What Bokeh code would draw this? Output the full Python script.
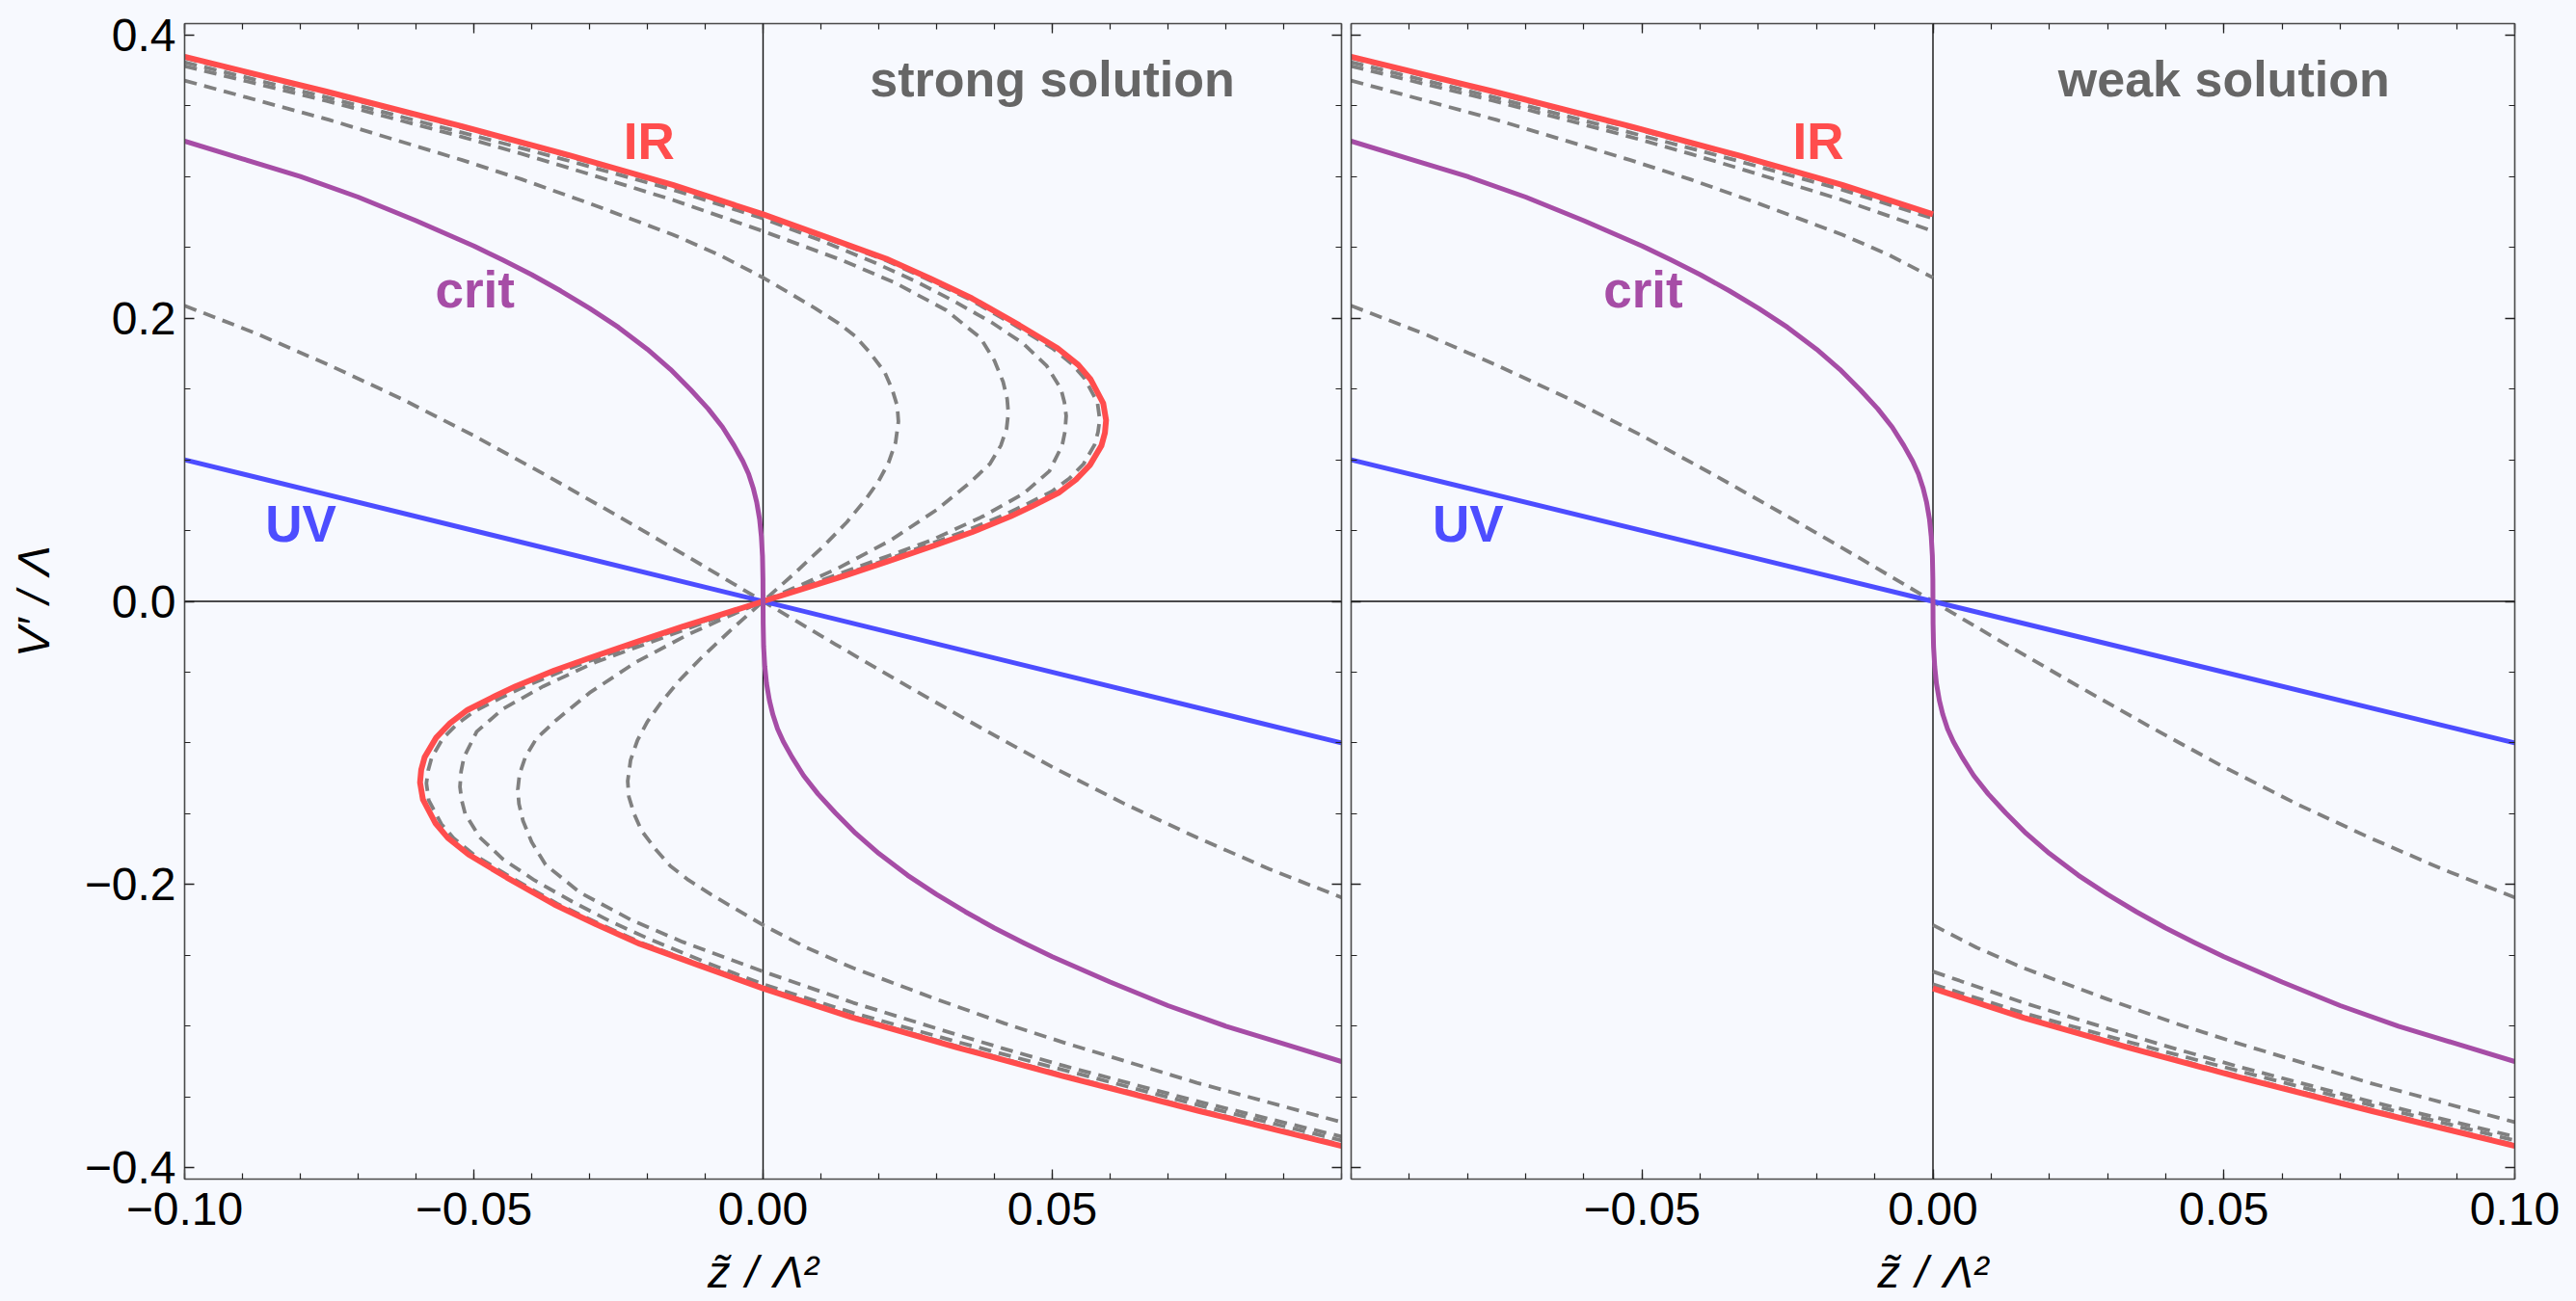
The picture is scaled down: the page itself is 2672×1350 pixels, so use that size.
from bokeh.plotting import figure
from bokeh.models import (Range1d, LinearAxis, FixedTicker, Span, CustomJSTickFormatter,
                          CustomLabelingPolicy)
from bokeh.layouts import row
from bokeh.core.properties import value
from bokeh.embed import file_html
from bokeh.resources import INLINE

# ---------------- data ----------------
x_ticks_strong = [-0.1, -0.05, 0.0, 0.05]
x_ticks_weak = [-0.05, 0.0, 0.05, 0.1]
x_minor = [-0.1, -0.09, -0.08, -0.07, -0.06, -0.05, -0.04, -0.03, -0.02, -0.01, 0.0,
           0.01, 0.02, 0.03, 0.04, 0.05, 0.06, 0.07, 0.08, 0.09, 0.1]
y_ticks = [-0.4, -0.2, 0.0, 0.2, 0.4]
y_minor = [-0.4, -0.35, -0.3, -0.25, -0.2, -0.15, -0.1, -0.05, 0.0,
           0.05, 0.1, 0.15, 0.2, 0.25, 0.3, 0.35, 0.4]

# UV (blue)
uv_x = [-0.1, 0.1]
uv_y = [0.1, -0.1]

# crit (purple)
crit_x = [-0.1, -0.09, -0.08, -0.07, -0.06, -0.05, -0.045, -0.04, -0.035, -0.03,
          -0.025, -0.02, -0.016, -0.0125, -0.0095, -0.007, -0.005, -0.0035, -0.0025, -0.0017,
          -0.0011, -0.0006, -0.0003, -0.0001, -0.00002, 0.0,
          0.00002, 0.0001, 0.0003, 0.0006, 0.0011, 0.0017, 0.0025, 0.0035, 0.005, 0.007,
          0.0095, 0.0125, 0.016, 0.02, 0.025, 0.03, 0.035, 0.04, 0.045, 0.05,
          0.06, 0.07, 0.08, 0.09, 0.1]
crit_y = [0.3250, 0.3125, 0.3000, 0.2855, 0.2688, 0.2510, 0.2411, 0.2307, 0.2193, 0.2070,
          0.1935, 0.1780, 0.1638, 0.1494, 0.1360, 0.1230, 0.1100, 0.0990, 0.0900, 0.0800,
          0.0700, 0.0580, 0.0460, 0.0320, 0.0160, 0.0,
          -0.0160, -0.0320, -0.0460, -0.0580, -0.0700, -0.0800, -0.0900, -0.0990, -0.1100, -0.1230,
          -0.1360, -0.1494, -0.1638, -0.1780, -0.1935, -0.2070, -0.2193, -0.2307, -0.2411, -0.2510,
          -0.2688, -0.2855, -0.3000, -0.3125, -0.3250]

# IR (red)
ir_x = [-0.1, -0.0755, -0.052, -0.0335, -0.0156, 0.0, 0.0111, 0.0213, 0.0289, 0.0361,
        0.0443, 0.0509, 0.0545, 0.0566, 0.0588, 0.0593, 0.0591, 0.0585, 0.0565, 0.0541,
        0.0511, 0.0464, 0.0428, 0.0361, 0.0300, 0.0215, 0.0140, 0.0060, 0.0,
        -0.0060, -0.0140, -0.0215, -0.0300, -0.0361, -0.0428, -0.0464, -0.0511, -0.0541, -0.0565,
        -0.0585, -0.0591, -0.0593, -0.0588, -0.0566, -0.0545, -0.0509, -0.0443, -0.0361, -0.0289,
        -0.0213, -0.0111, 0.0, 0.0156, 0.0335, 0.052, 0.0755, 0.1]
ir_y = [0.3846, 0.3600, 0.3354, 0.3150, 0.2941, 0.2733, 0.2570, 0.2419, 0.2280, 0.2140,
        0.1950, 0.1788, 0.1670, 0.1569, 0.1400, 0.1280, 0.1190, 0.1100, 0.0962, 0.0860,
        0.0767, 0.0670, 0.0600, 0.0488, 0.0400, 0.0282, 0.0180, 0.0077, 0.0,
        -0.0077, -0.0180, -0.0282, -0.0400, -0.0488, -0.0600, -0.0670, -0.0767, -0.0860, -0.0962,
        -0.1100, -0.1190, -0.1280, -0.1400, -0.1569, -0.1670, -0.1788, -0.1950, -0.2140, -0.2280,
        -0.2419, -0.2570, -0.2733, -0.2941, -0.3150, -0.3354, -0.3600, -0.3846]

# dashed family (gray), outermost to innermost
da_x = [-0.1, -0.0755, -0.052, -0.0335, -0.0156, 0.0, 0.0110, 0.0210, 0.0285, 0.0356,
        0.0436, 0.0500, 0.0535, 0.0556, 0.0578, 0.0582, 0.0579, 0.0573, 0.0554, 0.0530,
        0.0500, 0.0454, 0.0418, 0.0352, 0.0292, 0.0209, 0.0136, 0.0058, 0.0,
        -0.0058, -0.0136, -0.0209, -0.0292, -0.0352, -0.0418, -0.0454, -0.0500, -0.0530, -0.0554,
        -0.0573, -0.0579, -0.0582, -0.0578, -0.0556, -0.0535, -0.0500, -0.0436, -0.0356, -0.0285,
        -0.0210, -0.0110, 0.0, 0.0156, 0.0335, 0.052, 0.0755, 0.1]
da_y = [0.3838, 0.3592, 0.3346, 0.3142, 0.2933, 0.2726, 0.2563, 0.2412, 0.2273, 0.2135,
        0.1948, 0.1788, 0.1672, 0.1573, 0.1405, 0.1285, 0.1195, 0.1105, 0.0970, 0.0870,
        0.0778, 0.0683, 0.0613, 0.0500, 0.0410, 0.0288, 0.0184, 0.0079, 0.0,
        -0.0079, -0.0184, -0.0288, -0.0410, -0.0500, -0.0613, -0.0683, -0.0778, -0.0870, -0.0970,
        -0.1105, -0.1195, -0.1285, -0.1405, -0.1573, -0.1672, -0.1788, -0.1948, -0.2135, -0.2273,
        -0.2412, -0.2563, -0.2726, -0.2933, -0.3142, -0.3346, -0.3592, -0.3838]

db_x = [-0.1, -0.0755, -0.052, -0.0417, -0.0335, -0.0156, 0.0, 0.0100, 0.0195, 0.0265,
        0.0330, 0.0395, 0.0450, 0.0490, 0.0515, 0.0521, 0.0524, 0.0522, 0.0517, 0.0495,
        0.0450, 0.0380, 0.0290, 0.0160, 0.0078, 0.0,
        -0.0078, -0.0160, -0.0290, -0.0380, -0.0450, -0.0495, -0.0517, -0.0522, -0.0524, -0.0521,
        -0.0515, -0.0490, -0.0450, -0.0395, -0.0330, -0.0265, -0.0195, -0.0100, 0.0, 0.0156,
        0.0335, 0.0417, 0.052, 0.0755, 0.1]
db_y = [0.3807, 0.3560, 0.3310, 0.3200, 0.3110, 0.2907, 0.2704, 0.2548, 0.2388, 0.2258,
        0.2120, 0.1970, 0.1820, 0.1665, 0.1500, 0.1405, 0.1310, 0.1200, 0.1100, 0.0920,
        0.0760, 0.0600, 0.0430, 0.0237, 0.0115, 0.0,
        -0.0115, -0.0237, -0.0430, -0.0600, -0.0760, -0.0920, -0.1100, -0.1200, -0.1310, -0.1405,
        -0.1500, -0.1665, -0.1820, -0.1970, -0.2120, -0.2258, -0.2388, -0.2548, -0.2704, -0.2907,
        -0.3110, -0.3200, -0.3310, -0.3560, -0.3807]

dc_x = [-0.1, -0.0755, -0.052, -0.0417, -0.0335, -0.0156, 0.0, 0.0139, 0.0228, 0.0317,
        0.0376, 0.0400, 0.0415, 0.0422, 0.0424, 0.0421, 0.0411, 0.0392, 0.0358, 0.0300,
        0.0220, 0.0130, 0.0065, 0.0,
        -0.0065, -0.0130, -0.0220, -0.0300, -0.0358, -0.0392, -0.0411, -0.0421, -0.0424, -0.0422,
        -0.0415, -0.0400, -0.0376, -0.0317, -0.0228, -0.0139, 0.0, 0.0156, 0.0335, 0.0417,
        0.052, 0.0755, 0.1]
dc_y = [0.3780, 0.3535, 0.3280, 0.3160, 0.3060, 0.2835, 0.2614, 0.2405, 0.2250, 0.2055,
        0.1860, 0.1700, 0.1550, 0.1430, 0.1330, 0.1220, 0.1100, 0.0970, 0.0840, 0.0646,
        0.0430, 0.0235, 0.0115, 0.0,
        -0.0115, -0.0235, -0.0430, -0.0646, -0.0840, -0.0970, -0.1100, -0.1220, -0.1330, -0.1430,
        -0.1550, -0.1700, -0.1860, -0.2055, -0.2250, -0.2405, -0.2614, -0.2835, -0.3060, -0.3160,
        -0.3280, -0.3535, -0.3780]

dd_x = [-0.1, -0.075, -0.052, -0.0417, -0.030, -0.0156, -0.0075, 0.0, 0.0046, 0.0090,
        0.0129, 0.0160, 0.0184, 0.0210, 0.0223, 0.0232, 0.0234, 0.0229, 0.0217, 0.0200,
        0.0177, 0.0145, 0.0107, 0.0055, 0.0,
        -0.0055, -0.0107, -0.0145, -0.0177, -0.0200, -0.0217, -0.0229, -0.0234, -0.0232, -0.0223,
        -0.0210, -0.0184, -0.0160, -0.0129, -0.0090, -0.0046, 0.0, 0.0075, 0.0156, 0.030,
        0.0417, 0.052, 0.075, 0.1]
dd_y = [0.3678, 0.3400, 0.3116, 0.2980, 0.2810, 0.2590, 0.2445, 0.2286, 0.2176, 0.2070,
        0.1968, 0.1870, 0.1760, 0.1620, 0.1500, 0.1380, 0.1270, 0.1120, 0.0980, 0.0850,
        0.0718, 0.0560, 0.0400, 0.0200, 0.0,
        -0.0200, -0.0400, -0.0560, -0.0718, -0.0850, -0.0980, -0.1120, -0.1270, -0.1380, -0.1500,
        -0.1620, -0.1760, -0.1870, -0.1968, -0.2070, -0.2176, -0.2286, -0.2445, -0.2590, -0.2810,
        -0.2980, -0.3116, -0.3400, -0.3678]

# monotonic dashed curve between UV and crit
de_x = [-0.1, -0.0875, -0.075, -0.0625, -0.05, -0.0375, -0.025, -0.0125, 0.0,
        0.0125, 0.025, 0.0375, 0.05, 0.0625, 0.075, 0.0875, 0.1]
de_y = [0.2088, 0.1890, 0.1668, 0.1430, 0.1170, 0.0890, 0.0600, 0.0303, 0.0,
        -0.0303, -0.0600, -0.0890, -0.1170, -0.1430, -0.1668, -0.1890, -0.2091]

panel_titles = ["strong solution", "weak solution"]
curve_names = ["IR", "crit", "UV"]

# ---------------- styling ----------------
BG = "#F7F9FE"
RED = "#FF4D4D"
BLUE = "#4D4DFF"
PURPLE = "#A64DA6"
GRAY = "#808080"
TITLE_GRAY = "#666666"
FONT = "Liberation Sans"
FH = 1199

name_pos = {"IR": (-0.0197, 0.3252, RED), "crit": (-0.0498, 0.2200, PURPLE),
            "UV": (-0.0799, 0.0551, BLUE)}
title_pos = (0.05, 0.369)


def style_axis(ax, labels):
    ax.axis_line_color = "#4a4a4a"
    ax.axis_line_width = 1.6
    ax.major_tick_in = 10
    ax.major_tick_out = 0
    ax.minor_tick_in = 6
    ax.minor_tick_out = 0
    ax.major_tick_line_color = "#222222"
    ax.minor_tick_line_color = "#222222"
    ax.major_tick_line_width = 1.3
    ax.minor_tick_line_width = 1.2
    if labels:
        ax.major_label_text_font = FONT
        ax.major_label_text_font_size = "48px"
        ax.major_label_text_color = "black"
    else:
        ax.major_label_policy = CustomLabelingPolicy(code="return []")
        ax.major_label_text_font_size = "1px"
        ax.major_label_standoff = 0


def fmt(decimals):
    return CustomJSTickFormatter(code="""
        const s = Math.abs(tick).toFixed(%d);
        return (tick < -1e-9 ? "\\u2212" : "") + s;
    """ % decimals)


def weak_parts(xs, ys):
    i_up = next(i for i, v in enumerate(xs) if v >= 0)
    i_lo = max(i for i, v in enumerate(xs) if v <= 0)
    return (xs[:i_up + 1], ys[:i_up + 1]), (xs[i_lo:], ys[i_lo:])


def make_panel(x_major, first):
    p = figure(frame_width=1200 if first else 1207, frame_height=FH,
               x_range=Range1d(-0.1, 0.1), y_range=Range1d(-0.408, 0.408),
               output_backend="svg", toolbar_location=None,
               x_axis_location=None, y_axis_location=None,
               min_border_left=191 if first else 0,
               min_border_right=0 if first else 50,
               min_border_top=24, min_border_bottom=0,
               background_fill_color=BG, border_fill_color=BG,
               outline_line_color=None)
    p.grid.visible = False

    xt = FixedTicker(ticks=x_major, minor_ticks=x_minor)
    yt = FixedTicker(ticks=y_ticks, minor_ticks=y_minor)

    below = LinearAxis(ticker=xt, formatter=fmt(2))
    style_axis(below, True)
    below.major_label_standoff = 14
    below.axis_label = "z\u0303\u2004/\u2004\u039b\u00b2"
    below.axis_label_text_font = FONT
    below.axis_label_text_font_style = "italic"
    below.axis_label_text_font_size = "47px"
    below.axis_label_text_color = "black"
    below.axis_label_standoff = 19
    p.add_layout(below, "below")

    above = LinearAxis(ticker=xt)
    style_axis(above, False)
    p.add_layout(above, "above")

    left = LinearAxis(ticker=yt, formatter=fmt(1))
    style_axis(left, first)
    if first:
        left.major_label_standoff = 9
        left.axis_label = "V\u2032\u2004/\u2004\u039b"
        left.axis_label_text_font = FONT
        left.axis_label_text_font_style = "italic"
        left.axis_label_text_font_size = "47px"
        left.axis_label_text_color = "black"
        left.axis_label_standoff = 24
    p.add_layout(left, "left")

    right = LinearAxis(ticker=yt)
    style_axis(right, False)
    p.add_layout(right, "right")

    for dim in ("width", "height"):
        s = Span(location=0, dimension=dim, line_color="#111111", line_width=1.4)
        s.level = "underlay"
        p.add_layout(s)
    return p


dash_kw = dict(line_color=GRAY, line_width=3.8, line_dash="13 8", line_join="round")

p1 = make_panel(x_ticks_strong, True)
p2 = make_panel(x_ticks_weak, False)

# strong solution: full curves
for xs, ys in [(da_x, da_y), (db_x, db_y), (dc_x, dc_y), (dd_x, dd_y), (de_x, de_y)]:
    p1.line(xs, ys, **dash_kw)
p1.line(uv_x, uv_y, line_color=BLUE, line_width=5)
p1.line(ir_x, ir_y, line_color=RED, line_width=6, line_join="round")
p1.line(crit_x, crit_y, line_color=PURPLE, line_width=5, line_join="round")

# weak solution: folded curves keep only the outer branches
for xs, ys in [(da_x, da_y), (db_x, db_y), (dc_x, dc_y), (dd_x, dd_y)]:
    (ux, uy), (lx, ly) = weak_parts(xs, ys)
    p2.line(ux, uy, **dash_kw)
    p2.line(lx, ly, **dash_kw)
p2.line(de_x, de_y, **dash_kw)
p2.line(uv_x, uv_y, line_color=BLUE, line_width=5)
(ux, uy), (lx, ly) = weak_parts(ir_x, ir_y)
p2.line(ux, uy, line_color=RED, line_width=6)
p2.line(lx, ly, line_color=RED, line_width=6)
p2.line(crit_x, crit_y, line_color=PURPLE, line_width=5, line_join="round")

for p, title in ((p1, panel_titles[0]), (p2, panel_titles[1])):
    p.text(x=[title_pos[0]], y=[title_pos[1]], text=[title], text_font=value(FONT),
           text_font_style="bold", text_font_size="52px", text_color=TITLE_GRAY,
           text_align="center", text_baseline="middle")
    for name in curve_names:
        lx_, ly_, col = name_pos[name]
        p.text(x=[lx_], y=[ly_], text=[name], text_font=value(FONT),
               text_font_style="bold", text_font_size="53px", text_color=col,
               text_align="center", text_baseline="middle")

layout = row(p1, p2)
html = file_html(layout, INLINE)
html = html.replace("</head>", "<style>body{background:%s;}</style></head>" % BG, 1)
with open("out.html", "w", encoding="utf-8") as f:
    f.write(html)
